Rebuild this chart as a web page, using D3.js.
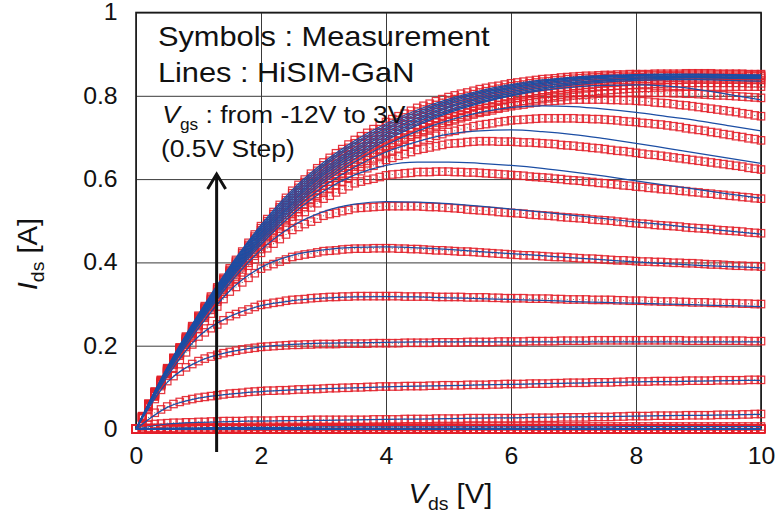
<!DOCTYPE html>
<html><head><meta charset="utf-8">
<script src="https://cdn.jsdelivr.net/npm/d3@7/dist/d3.min.js"></script>
<style>
html,body{margin:0;padding:0;background:#fff;}
svg{display:block;}
text{font-family:"Liberation Sans",Arial,Helvetica,sans-serif;fill:#111;}
</style></head><body>
<svg id="chart" width="781" height="521"></svg>
<script>
// ---------------- DATA (currents in mA) ----------------
const xTicks=[0,2,4,6,8,10];
const xTickLabels=["0","2","4","6","8","10"];
const yTicks=[0,0.2,0.4,0.6,0.8,1];
const yTickLabels=["0","0.2","0.4","0.6","0.8","1"];

// measurement Vds grid (0.1 V step)
const vdsMeas=[0,0.1,0.2,0.3,0.4,0.5,0.6,0.7,0.8,0.9,1,1.1,1.2,1.3,1.4,1.5,1.6,1.7,1.8,1.9,2,2.1,2.2,2.3,2.4,2.5,2.6,2.7,2.8,2.9,3,3.1,3.2,3.3,3.4,3.5,3.6,3.7,3.8,3.9,4,4.1,4.2,4.3,4.4,4.5,4.6,4.7,4.8,4.9,5,5.1,5.2,5.3,5.4,5.5,5.6,5.7,5.8,5.9,6,6.1,6.2,6.3,6.4,6.5,6.6,6.7,6.8,6.9,7,7.1,7.2,7.3,7.4,7.5,7.6,7.7,7.8,7.9,8,8.1,8.2,8.3,8.4,8.5,8.6,8.7,8.8,8.9,9,9.1,9.2,9.3,9.4,9.5,9.6,9.7,9.8,9.9,10];
// HiSIM-GaN Vds grid (0.5 V step)
const vdsSim=[0,0.5,1,1.5,2,2.5,3,3.5,4,4.5,5,5.5,6,6.5,7,7.5,8,8.5,9,9.5,10];

// Measured Ids (mA), one array per Vgs
const meas_p30=[0,31,61,90,118,146,171,196,222,247,272,295,318,340,363,386,406,426,447,467,487,504,521,538,555,572,586,599,613,626,640,651,662,672,683,694,703,711,720,728,737,744,751,757,764,771,776,781,787,792,797,801,805,808,812,816,819,822,824,827,830,832,834,836,838,840,841,842,844,845,846,847,848,848,849,850,850,851,851,852,852,852,852,853,853,853,853,853,854,854,854,854,854,853,853,853,853,853,852,852,852];
const meas_p25=[0,30,60,89,117,145,170,195,220,245,270,292,315,337,360,382,402,422,442,462,482,499,516,532,549,566,579,593,606,620,633,644,654,665,675,686,694,703,711,720,728,735,742,748,755,762,767,772,778,783,788,792,796,800,804,808,811,814,817,820,823,825,827,830,832,834,835,837,838,840,841,842,843,844,845,846,847,847,848,848,849,849,849,850,850,850,850,850,851,851,851,851,851,851,851,851,851,851,850,850,850];
const meas_p20=[0,30,59,88,116,144,169,194,218,243,268,290,312,335,357,379,399,418,438,457,477,494,510,527,543,560,573,586,600,613,626,636,647,657,668,678,686,695,703,712,720,727,734,740,747,754,759,765,770,776,781,785,789,793,797,801,804,807,810,813,816,818,821,823,826,828,830,831,833,834,836,837,838,840,841,842,843,843,844,844,845,845,846,846,847,847,847,847,848,848,848,848,848,848,848,848,848,848,847,847,847];
const meas_p15=[0,30,59,87,115,143,168,192,217,241,266,288,310,332,354,376,395,414,434,453,472,488,505,521,538,554,567,580,593,606,619,629,639,650,660,670,678,687,695,704,712,719,726,732,739,746,751,757,762,768,773,777,781,785,789,793,796,799,803,806,809,811,814,816,819,821,823,825,826,828,830,831,832,834,835,836,837,838,838,839,840,841,841,842,842,843,843,843,844,844,844,844,844,844,844,844,844,844,843,843,843];
const meas_p10=[0,29,58,86,114,142,166,191,215,240,264,286,308,329,351,373,392,411,429,448,467,483,499,516,532,548,561,574,586,599,612,622,632,643,653,663,671,679,688,696,704,711,718,724,731,738,743,749,754,760,765,769,773,778,782,786,789,792,796,799,802,804,807,809,812,814,816,818,819,821,823,824,826,827,829,830,831,832,833,834,835,836,836,837,837,838,838,838,839,839,839,839,839,839,839,839,839,839,838,838,838];
const meas_p05=[0,29,58,86,113,141,165,189,214,238,262,284,305,327,348,370,388,407,425,444,462,478,494,510,526,542,555,567,580,592,605,615,625,635,645,655,663,671,679,687,695,702,709,715,722,729,734,740,745,751,756,760,764,769,773,777,780,783,787,790,793,795,798,800,803,805,807,809,811,813,815,816,818,819,821,822,823,824,825,826,827,828,828,829,829,830,830,830,831,831,831,831,831,831,831,831,831,831,830,830,830];
const meas_z00=[0,29,57,85,112,140,164,188,212,236,260,281,302,324,345,366,384,402,421,439,457,473,488,504,519,535,548,560,573,585,598,608,618,627,637,647,655,663,671,679,687,694,700,707,713,720,725,730,736,741,746,750,754,759,763,767,770,773,777,780,783,786,788,791,793,796,798,800,802,804,806,807,809,810,812,813,814,815,816,817,818,819,819,820,820,821,821,821,822,822,822,822,822,822,822,822,822,822,822,822,822];
const meas_n05=[0,28,57,84,111,139,163,187,210,234,258,279,300,321,342,363,381,399,416,434,452,467,483,498,514,529,541,554,566,579,591,601,611,620,630,640,648,656,664,672,680,687,693,700,706,713,718,724,729,735,740,744,749,753,758,762,765,769,772,776,779,782,784,787,789,792,794,796,797,799,801,802,803,804,805,806,806,807,807,808,808,808,808,807,807,807,806,806,805,805,804,803,802,801,801,800,799,798,797,796,795];
const meas_n10=[0,28,56,84,111,138,162,185,209,232,256,277,298,318,339,360,377,395,412,430,447,462,477,492,507,522,534,547,559,572,584,594,604,614,624,634,642,650,659,667,675,682,689,695,702,709,715,720,726,731,737,741,746,750,755,759,762,765,769,772,775,777,779,782,784,786,787,788,789,790,791,791,791,791,791,791,790,790,789,789,788,787,786,784,783,782,780,778,777,775,773,771,769,767,765,763,761,758,756,753,751];
const meas_n15=[0,28,55,83,110,137,160,184,207,231,254,275,295,316,336,357,374,391,409,426,443,458,472,487,501,516,528,540,552,564,576,585,595,604,614,623,630,638,645,653,660,666,672,678,684,690,695,699,704,708,713,716,720,723,727,730,732,734,737,739,741,742,743,744,745,746,746,746,746,746,746,745,745,744,744,743,742,741,739,738,737,735,734,732,731,729,727,725,722,720,718,716,713,711,708,706,703,701,698,696,693];
const meas_n20=[0,28,55,82,109,136,159,182,206,229,252,272,293,313,334,354,371,388,404,421,438,452,467,481,496,510,521,533,544,556,567,576,585,594,603,612,619,626,632,639,646,651,656,660,665,670,673,676,679,682,685,686,687,689,690,691,691,691,690,690,690,689,688,688,687,686,685,684,682,681,680,678,677,675,674,672,670,668,667,665,663,661,659,658,656,654,652,650,648,646,644,642,640,638,636,634,632,630,627,625,623];
const meas_n25=[0,27,54,81,108,135,158,181,204,227,250,270,290,310,330,350,366,383,399,416,432,446,459,473,486,500,511,521,532,542,553,560,568,575,583,590,594,598,601,605,609,611,612,614,615,617,617,617,618,618,618,617,617,616,616,615,614,613,612,611,610,609,608,606,605,604,603,601,600,598,597,596,594,593,591,590,588,587,585,584,582,581,579,578,576,575,574,572,571,569,568,566,565,563,562,560,559,557,556,554,553];
const meas_n30=[0,27,54,80,107,134,157,179,202,224,247,267,286,306,325,345,361,376,392,407,423,434,445,456,467,478,485,492,498,505,512,516,519,523,526,530,531,532,533,534,535,535,535,535,535,535,534,533,533,532,531,530,529,527,526,525,524,523,521,520,519,518,517,515,514,513,512,511,509,508,507,506,505,503,502,501,500,498,497,495,494,493,492,490,489,488,487,486,484,483,482,481,480,478,477,476,475,474,472,471,470];
const meas_n35=[0,27,53,79,106,132,154,176,197,219,241,259,277,294,312,330,341,352,363,374,385,391,396,402,407,413,416,419,421,424,427,428,429,431,432,433,433,433,434,434,434,434,433,433,432,432,431,430,429,429,428,427,426,426,425,424,423,422,421,420,419,418,417,417,416,415,414,413,413,412,411,410,409,409,408,407,406,405,405,404,403,402,402,401,401,400,399,399,398,398,397,396,395,395,394,393,392,392,391,391,390];
const meas_n40=[0,27,53,78,103,128,147,166,184,203,222,232,242,251,261,271,276,282,287,293,298,300,303,305,308,310,311,312,314,315,316,317,317,318,318,319,319,319,319,319,319,319,319,318,318,318,318,318,317,317,317,317,317,316,316,316,316,315,315,314,314,314,314,313,313,313,313,312,312,311,311,311,311,310,310,310,310,309,309,308,308,308,307,307,306,306,306,305,305,304,304,304,303,303,302,302,302,301,301,300,300];
const meas_n45=[0,25,49,72,94,115,127,138,148,156,163,169,174,178,182,185,188,191,193,195,197,198,199,200,201,202,202,203,203,204,204,204,204,205,205,205,205,205,206,206,206,206,206,207,207,207,207,207,208,208,208,208,208,209,209,209,209,209,210,210,210,210,210,211,211,211,211,211,212,212,212,212,212,213,213,213,213,213,213,213,213,213,213,213,213,213,213,213,212,212,212,212,212,212,212,212,212,212,211,211,211];
const meas_n50=[0,15,28,39,47,54,60,65,69,72,75,77,79,81,83,85,86,87,89,90,91,92,92,93,93,94,95,95,96,96,97,98,98,99,99,100,100,101,101,102,102,102,102,103,103,103,103,104,104,105,105,105,105,106,106,106,106,107,107,108,108,108,108,109,109,109,109,110,110,111,111,111,111,112,112,112,112,113,113,114,114,114,114,115,115,115,115,115,116,116,116,116,116,117,117,117,117,117,118,118,118];
const meas_n55=[0,6,10,12,13,14,15,15,16,16,17,17,18,18,19,19,19,19,20,20,20,20,20,21,21,21,21,21,22,22,22,22,22,22,22,22,22,22,23,23,23,23,23,24,24,24,24,24,25,25,25,25,25,26,26,26,26,26,26,26,26,26,26,27,27,27,27,27,28,28,28,28,28,29,29,29,29,30,30,31,31,31,31,32,32,32,32,32,33,33,33,33,33,34,34,34,34,35,35,36,36];
const meas_n60=[0,2,3,3,3,3,3,4,4,4,4,4,4,4,4,4,4,4,5,5,5,5,5,5,5,5,5,5,5,5,5,5,5,5,5,5,5,5,5,5,5,5,5,5,5,5,5,5,5,5,5,5,5,6,6,6,6,6,6,6,6,6,6,6,6,6,6,6,6,6,6,6,6,6,6,6,6,6,6,6,6,6,6,6,6,6,6,6,6,6,6,6,6,6,6,6,6,6,6,6,6];
const meas_off=[0,0,0,0,0,0,0,0,0,0,0,0,0,0,0,0,0,0,0,0,0,0,0,0,0,0,0,0,0,0,0,0,0,0,0,0,0,0,0,0,0,0,0,0,0,0,0,0,0,0,0,0,0,0,0,0,0,0,0,0,0,0,0,0,0,0,0,0,0,0,0,0,0,0,0,0,0,0,0,0,0,0,0,0,0,0,0,0,0,0,0,0,0,0,0,0,0,0,0,0,0];

// HiSIM-GaN simulated Ids (mA)
const sim_p30=[0,148,276,390,490,574,640,692,733,766,792,812,827,838,845,849,851,852,852,851,850];
const sim_p25=[0,147,274,387,486,569,635,687,728,761,788,808,824,835,843,848,850,851,851,850,849];
const sim_p20=[0,146,272,384,482,564,630,682,723,757,784,805,821,833,841,846,849,850,850,849,848];
const sim_p15=[0,145,270,381,478,559,624,676,718,752,780,801,818,830,839,844,847,848,848,847,846];
const sim_p10=[0,144,268,378,474,554,619,671,713,747,775,797,814,827,836,842,845,846,846,845,845];
const sim_p05=[0,143,266,375,470,549,614,666,708,742,771,793,810,823,832,838,842,844,844,844,843];
const sim_z00=[0,142,264,372,466,544,609,660,703,738,766,789,806,819,829,836,840,842,843,842,841];
const sim_n05=[0,141,262,369,462,539,603,655,698,733,762,785,802,816,826,833,837,839,839,837,835];
const sim_n10=[0,140,260,366,458,534,597,649,693,729,759,782,800,813,821,825,826,823,815,803,790];
const sim_n15=[0,139,258,363,454,529,591,641,682,715,741,760,772,776,774,768,760,750,740,728,716];
const sim_n20=[0,138,256,360,449,523,582,629,665,690,708,716,718,714,707,697,686,674,662,650,638];
const sim_n25=[0,137,254,357,443,515,571,610,633,641,641,638,633,626,617,607,596,585,575,564,554];
const sim_n30=[0,135,250,350,430,487,522,540,546,545,541,535,528,521,513,505,497,490,482,475,468];
const sim_n35=[0,132,242,332,388,417,430,436,437,435,431,426,421,416,411,406,401,397,393,390,387];
const sim_n40=[0,126,222,270,296,308,314,317,318,317,315,313,311,309,306,304,302,300,298,296,294];
const sim_n45=[0,112,162,185,197,203,206,207,208,209,209,209,209,209,209,209,209,209,209,209,209];
const sim_n50=[0,52,74,84,90,94,97,99,101,103,104,106,107,109,110,112,113,114,115,116,117];
const sim_n55=[0,12,16,18,19,20,21,22,23,24,25,26,27,28,29,30,31,32,33,34,35];
const sim_n60=[0,2,3,4,4,4,5,5,5,5,5,5,5,5,5,5,6,6,6,6,6];
const sim_off=[0,0,0,0,0,0,0,0,0,0,0,0,0,0,0,0,0,0,0,0,0];

const vgsOn=[3,2.5,2,1.5,1,0.5,0,-0.5,-1,-1.5,-2,-2.5,-3,-3.5,-4,-4.5,-5,-5.5,-6];
const vgsOff=[-6.5,-7,-7.5,-8,-8.5,-9,-9.5,-10,-10.5,-11,-11.5,-12];
const measOn=[meas_p30,meas_p25,meas_p20,meas_p15,meas_p10,meas_p05,meas_z00,meas_n05,meas_n10,meas_n15,meas_n20,meas_n25,meas_n30,meas_n35,meas_n40,meas_n45,meas_n50,meas_n55,meas_n60];
const simOn=[sim_p30,sim_p25,sim_p20,sim_p15,sim_p10,sim_p05,sim_z00,sim_n05,sim_n10,sim_n15,sim_n20,sim_n25,sim_n30,sim_n35,sim_n40,sim_n45,sim_n50,sim_n55,sim_n60];

const measCurves=vgsOn.map((v,i)=>({vgs:v,ids:measOn[i]})).concat(vgsOff.map(v=>({vgs:v,ids:meas_off})));
const simCurves=vgsOn.map((v,i)=>({vgs:v,ids:simOn[i]})).concat(vgsOff.map(v=>({vgs:v,ids:sim_off})));
measCurves.forEach(c=>{if(c.ids.length!==vdsMeas.length) throw new Error("meas length "+c.vgs+": "+c.ids.length);});
simCurves.forEach(c=>{if(c.ids.length!==vdsSim.length) throw new Error("sim length "+c.vgs+": "+c.ids.length);});

// ---------------- DRAW ----------------
const svg=d3.select("#chart");
const x=d3.scaleLinear().domain([0,10]).range([136,761]);
const y=d3.scaleLinear().domain([0,1]).range([429,12.5]);
const TS=1.08;              // horizontal text stretch of the original artwork

// grid + x axis
const gx=svg.append("g").attr("transform",`translate(0,${y(0)})`)
  .call(d3.axisBottom(x).tickValues(xTicks).tickSize(-(y(0)-y(1))).tickPadding(19).tickFormat((d,i)=>xTickLabels[i]));
gx.select(".domain").remove();
gx.selectAll(".tick line").attr("stroke","#3a3a3a").attr("stroke-width",1);
gx.selectAll(".tick text").attr("font-size",23).attr("fill","#111").attr("transform",`scale(${TS},1)`);

// grid + y axis
const gy=svg.append("g").attr("transform",`translate(${x(0)},0)`)
  .call(d3.axisLeft(y).tickValues(yTicks).tickSize(-(x(10)-x(0))).tickPadding(17).tickFormat((d,i)=>yTickLabels[i]));
gy.select(".domain").remove();
gy.selectAll(".tick line").attr("stroke","#3a3a3a").attr("stroke-width",1);
gy.selectAll(".tick text").attr("font-size",23).attr("fill","#111").attr("transform",`scale(${TS},1)`);

// frame
svg.append("rect").attr("x",x(0)).attr("y",y(1)).attr("width",x(10)-x(0)).attr("height",y(0)-y(1))
  .attr("fill","none").attr("stroke","#1a1a1a").attr("stroke-width",1.6);

// measurement symbols
const SZ=7.4;
const symG=svg.append("g");
measCurves.forEach(c=>{
  const g=symG.append("g");
  g.selectAll("rect").data(c.ids).join("rect")
    .attr("x",(d,i)=>x(vdsMeas[i])-SZ/2).attr("y",d=>y(d/1000)-SZ/2)
    .attr("width",SZ).attr("height",SZ)
    .attr("fill","none").attr("stroke","#e3202a").attr("stroke-width",1.25).attr("stroke-opacity",0.9);
  g.selectAll("circle").data(c.ids).join("circle")
    .attr("cx",(d,i)=>x(vdsMeas[i])).attr("cy",d=>y(d/1000)).attr("r",0.55)
    .attr("fill","#6a5a5a");
});

// HiSIM-GaN lines
const line=d3.line().x((d,i)=>x(vdsSim[i])).y(d=>y(d/1000)).curve(d3.curveMonotoneX);
const lineG=svg.append("g");
simCurves.forEach(c=>{
  lineG.append("path").attr("d",line(c.ids)).attr("fill","none")
    .attr("stroke","#1c4ea4").attr("stroke-width",1.25);
});

// annotations
function place(px,py){return `translate(${px},${py}) scale(${TS},1)`;}
const ann=svg.append("g");
ann.append("text").attr("transform",place(x(0.35),y(0.92))).attr("font-size",28.5).text("Symbols : Measurement");
ann.append("text").attr("transform",place(x(0.35),y(0.832))).attr("font-size",28.5).text("Lines : HiSIM-GaN");
const t3=ann.append("text").attr("transform",place(x(0.42),y(0.735))).attr("font-size",24.5);
t3.append("tspan").attr("font-style","italic").text("V");
t3.append("tspan").attr("font-size",16).attr("dy",7).text("gs");
t3.append("tspan").attr("dy",-7).text(" : from -12V to 3V");
ann.append("text").attr("transform",place(x(0.40),y(0.653))).attr("font-size",24.5).text("(0.5V Step)");

// arrow
const ax=x(1.29), aTop=y(0.612), aBot=y(-0.055);
svg.append("line").attr("x1",ax).attr("x2",ax).attr("y1",aBot).attr("y2",aTop+2)
  .attr("stroke","#111").attr("stroke-width",3);
svg.append("path").attr("d",`M${ax-9},${aTop+15}L${ax},${aTop}L${ax+9},${aTop+15}`)
  .attr("fill","none").attr("stroke","#111").attr("stroke-width",3).attr("stroke-linejoin","miter");

// axis titles
const xt=svg.append("text").attr("transform",place(x(5.03),503)).attr("text-anchor","middle").attr("font-size",27);
xt.append("tspan").attr("font-style","italic").text("V");
xt.append("tspan").attr("font-size",18).attr("dy",7).text("ds");
xt.append("tspan").attr("dy",-7).text(" [V]");

const yt=svg.append("text").attr("transform",`translate(37,${y(0.42)}) rotate(-90) scale(${TS},1)`).attr("text-anchor","middle").attr("font-size",27);
yt.append("tspan").attr("font-style","italic").text("I");
yt.append("tspan").attr("font-size",18).attr("dy",7).text("ds");
yt.append("tspan").attr("dy",-7).text(" [A]");
</script>
</body></html>
